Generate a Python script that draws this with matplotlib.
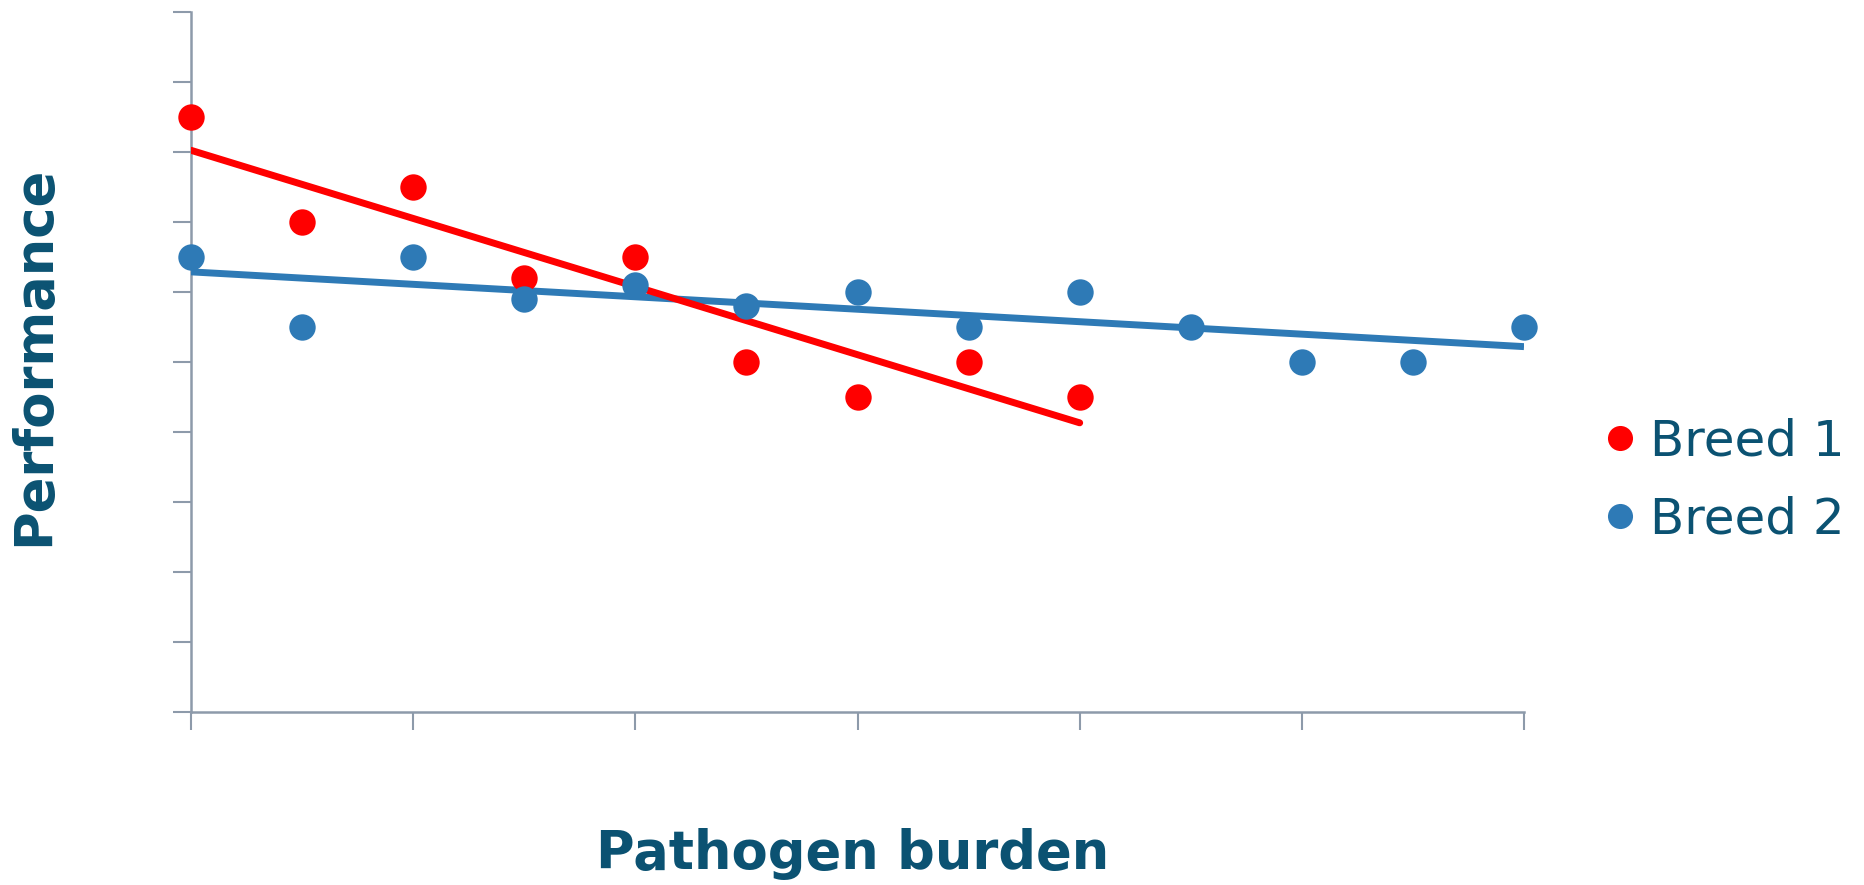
import numpy as np
import matplotlib
matplotlib.use("Agg")
from matplotlib import pyplot as plt

# data
breed1_x = [0, 0.5, 1, 1.5, 2, 2.5, 3, 3.5, 4]
breed1_y = [8.5, 7, 7.5, 6.2, 6.5, 5, 4.5, 5, 4.5]
breed2_x = [0, 0.5, 1, 1.5, 2, 2.5, 3, 3.5, 4, 4.5, 5, 5.5, 6]
breed2_y = [6.5, 5.5, 6.5, 5.9, 6.1, 5.8, 6, 5.5, 6, 5.5, 5, 5, 5.5]
labels = ["Breed 1", "Breed 2"]

red = "#FF0000"
blue = "#2E7AB6"
text_col = "#0B5272"
axis_col = "#8D9AAA"

fig = plt.figure(figsize=(18.64, 8.85), dpi=100)
ax = fig.add_axes([0.1025, 0.1955, 0.7151, 0.7909])

# linear trend lines
x1 = np.array([min(breed1_x), max(breed1_x)])
p1 = np.polyfit(breed1_x, breed1_y, 1)
x2 = np.array([min(breed2_x), max(breed2_x)])
p2 = np.polyfit(breed2_x, breed2_y, 1)
ax.plot(x2, np.polyval(p2, x2), color=blue, lw=5, solid_capstyle="butt", zorder=2)
ax.plot(x1, np.polyval(p1, x1), color=red, lw=5, solid_capstyle="round", zorder=3)

ax.plot(breed1_x, breed1_y, "o", color=red, ms=19, mec="none", zorder=4,
        label=labels[0], clip_on=False)
ax.plot(breed2_x, breed2_y, "o", color=blue, ms=19, mec="none", zorder=5,
        label=labels[1], clip_on=False)

ax.set_xlim(0, 6)
ax.set_ylim(0, 10)
ax.set_xticks(range(0, 7))
ax.set_yticks(range(0, 11))
ax.set_xticklabels([])
ax.set_yticklabels([])
ax.tick_params(direction="out", length=13, width=1.5, color=axis_col)
for s in ["top", "right"]:
    ax.spines[s].set_visible(False)
for s in ["left", "bottom"]:
    ax.spines[s].set_color(axis_col)
    ax.spines[s].set_linewidth(1.8)
    ax.spines[s].set_zorder(1)

fig.text(0.0185, 0.598, "Performance", rotation=90, ha="center", va="center",
         fontsize=38, fontweight="bold", color=text_col)
fig.text(0.4575, 0.006, "Pathogen burden", ha="center", va="bottom",
         fontsize=38, fontweight="bold", color=text_col)

leg = ax.legend(loc="center left", bbox_to_anchor=(1.038, 0.331), frameon=False,
                fontsize=36, handletextpad=0.1, labelspacing=0.6, markerscale=0.95,
                handlelength=1.0, borderaxespad=0)
for t in leg.get_texts():
    t.set_color(text_col)

plt.savefig("out.png", dpi=100)
plt.close(fig)
